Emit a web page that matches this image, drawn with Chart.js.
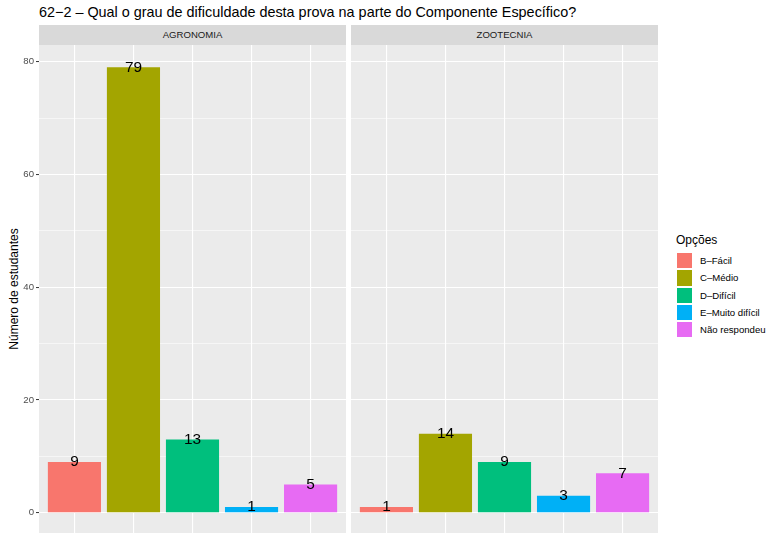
<!DOCTYPE html>
<html>
<head>
<meta charset="utf-8">
<script src="https://cdn.jsdelivr.net/npm/chart.js@4/dist/chart.umd.min.js"></script>
<style>
  html, body { margin: 0; padding: 0; background: #fff; width: 767px; height: 533px; overflow: hidden; }
  body { position: relative; font-family: "Liberation Sans", Arial, Helvetica, sans-serif; }
  .abs { position: absolute; }
  .title { left: 39px; top: 4px; font-size: 14.4px; color: #000; white-space: nowrap; }
  .strip { top: 25px; height: 20px; width: 307px; background: #D9D9D9; color: #1A1A1A; font-size: 9.6px; line-height: 20px; text-align: center; }
  .ytitle { left: 14px; top: 289px; font-size: 12px; color: #000; white-space: nowrap; transform: translate(-50%, -50%) rotate(-90deg); }
  .legtitle { left: 676px; top: 233px; font-size: 12px; color: #000; white-space: nowrap; }
  .key { left: 676px; width: 17.3px; height: 17.3px; box-sizing: border-box; border: 0.6px solid #fff; }
  .klabel { left: 700px; font-size: 9.6px; color: #000; white-space: nowrap; line-height: 17.3px; }
</style>
</head>
<body>
<div class="abs title">62−2 – Qual o grau de dificuldade desta prova na parte do Componente Específico?</div>
<div class="abs strip" style="left:39px" id="s1"></div>
<div class="abs strip" style="left:351px" id="s2"></div>
<div class="abs ytitle">Número de estudantes</div>
<div class="abs" style="left:0px;top:45px;width:346px;height:490px"><canvas id="c1" width="346" height="490"></canvas></div>
<div class="abs" style="left:351px;top:45px;width:307px;height:490px"><canvas id="c2" width="307" height="490"></canvas></div>
<div class="abs legtitle">Opções</div>
<div id="legend"></div>
<script>
// ---- data ----
const panels = ["AGRONOMIA", "ZOOTECNIA"];
const categories = ["B–Fácil", "C–Médio", "D–Difícil", "E–Muito difícil", "Não respondeu"];
const agronomia = [9, 79, 13, 1, 5];
const zootecnia = [1, 14, 9, 3, 7];
const yTicks = [0, 20, 40, 60, 80];
const colors = ["#F8766D", "#A3A500", "#00BF7D", "#00B0F6", "#E76BF3"];

document.getElementById('s1').textContent = panels[0];
document.getElementById('s2').textContent = panels[1];

// legend
const leg = document.getElementById('legend');
categories.forEach((c, i) => {
  const top = 252 + i * 17.3;
  const k = document.createElement('div');
  k.className = 'abs key';
  k.style.top = top + 'px';
  k.style.background = colors[i];
  leg.appendChild(k);
  const l = document.createElement('div');
  l.className = 'abs klabel';
  l.style.top = top + 'px';
  l.textContent = c;
  leg.appendChild(l);
});

const panelBg = {
  id: 'panelBg',
  beforeDraw(chart) {
    const a = chart.chartArea, ctx = chart.ctx;
    ctx.save();
    ctx.fillStyle = '#EBEBEB';
    ctx.fillRect(a.left, a.top, a.right - a.left, a.bottom - a.top);
    ctx.restore();
  }
};
const valueLabels = {
  id: 'valueLabels',
  afterDatasetsDraw(chart) {
    const ctx = chart.ctx;
    const meta = chart.getDatasetMeta(0);
    const ys = chart.scales.y;
    ctx.save();
    ctx.font = '15.4px "Liberation Sans", Arial, sans-serif';
    ctx.fillStyle = '#000';
    ctx.textAlign = 'center';
    ctx.textBaseline = 'middle';
    meta.data.forEach((bar, i) => {
      const v = chart.data.datasets[0].data[i].y;
      ctx.fillText(String(v), bar.x, ys.getPixelForValue(v));
    });
    ctx.restore();
  }
};

function makeChart(id, values, showY) {
  const yMin = -0.05 * 79, yMax = 79 * 1.05;
  return new Chart(document.getElementById(id), {
    type: 'bar',
    data: {
      datasets: [{
        data: values.map((v, i) => ({ x: i + 1, y: v })),
        backgroundColor: colors,
        borderWidth: 0,
        barPercentage: 0.9,
        categoryPercentage: 1.0
      }]
    },
    options: {
      responsive: false,
      animation: false,
      devicePixelRatio: 1,
      layout: { padding: 0 },
      plugins: { legend: { display: false }, tooltip: { enabled: false } },
      scales: {
        x: {
          type: 'linear',
          offset: false,
          min: 0.4, max: 5.6,
          afterBuildTicks: s => { s.ticks = categories.map((c, i) => ({ value: i + 1 })); },
          afterFit: s => { s.height = 0; },
          ticks: { display: false },
          border: { display: false },
          grid: { color: '#FFFFFF', lineWidth: 1.1, drawTicks: false, offset: false }
        },
        y: {
          type: 'linear',
          min: yMin, max: yMax,
          afterBuildTicks: s => {
            const t = [];
            yTicks.forEach((v, i) => { t.push({ value: v }); if (i < yTicks.length - 1) t.push({ value: v + 10 }); });
            s.ticks = t;
          },
          afterFit: s => { s.width = showY ? 39 : 0; s.paddingTop = 0; s.paddingBottom = 0; },
          border: { display: false },
          ticks: {
            display: showY,
            padding: 2,
            color: '#4D4D4D',
            font: { family: '"Liberation Sans", Arial, sans-serif', size: 9.6 },
            callback: v => (yTicks.includes(v) ? String(v) : '')
          },
          grid: {
            color: '#FFFFFF',
            lineWidth: c => (c.tick && yTicks.includes(c.tick.value) ? 1.1 : 0.55),
            drawTicks: showY,
            tickLength: 3,
            tickWidth: 1,
            tickColor: c => (c.tick && yTicks.includes(c.tick.value) ? '#333333' : 'rgba(0,0,0,0)')
          }
        }
      }
    },
    plugins: [panelBg, valueLabels]
  });
}
makeChart('c1', agronomia, true);
makeChart('c2', zootecnia, false);
</script>
</body>
</html>
